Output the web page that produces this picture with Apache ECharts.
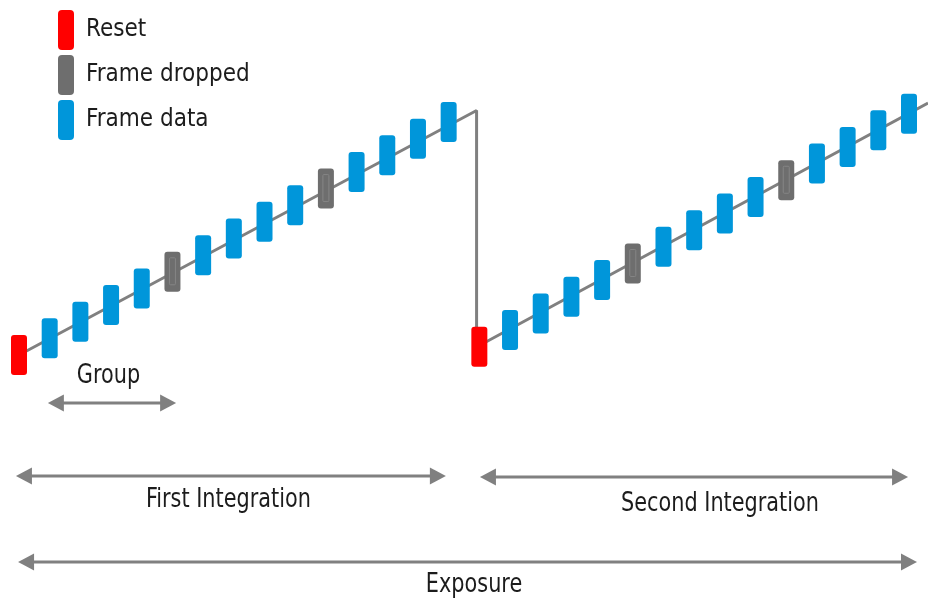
<!DOCTYPE html>
<html>
<head>
<meta charset="utf-8">
<script src="https://cdn.jsdelivr.net/npm/echarts@6/dist/echarts.min.js"></script>
<style>
  html, body { margin: 0; padding: 0; background: #ffffff; }
  #chart { width: 928px; height: 605px; }
</style>
</head>
<body>
<div id="chart"></div>
<script>
// ---------- DATA (time slot, signal level) ----------
const resetSlots   = [0, 15];
const resetLevels  = [0, 0.5];

const droppedSlots  = [5, 10, 20, 25];
const droppedLevels = [5, 10, 5.5, 10.5];

const frameSlots  = [1, 2, 3, 4, 6, 7, 8, 9, 11, 12, 13, 14,
                     16, 17, 18, 19, 21, 22, 23, 24, 26, 27, 28, 29];
const frameLevels = [1, 2, 3, 4, 6, 7, 8, 9, 11, 12, 13, 14,
                     1.5, 2.5, 3.5, 4.5, 6.5, 7.5, 8.5, 9.5, 11.5, 12.5, 13.5, 14.5];

// signal trace (ramp, reset drop, second ramp)
const traceSlots  = [0, 14.91, 14.91, 29.62];
const traceLevels = [0, 14.69, 0.48, 15.14];

// interval spans
const spanLabels = ['Group', 'First Integration', 'Second Integration', 'Exposure'];
const spanFrom   = [0.94, -0.1, 15.02, -0.03];
const spanTo     = [5.12, 13.91, 28.97, 29.26];

const legendNames = ['Reset', 'Frame dropped', 'Frame data'];

// ---------- LAYOUT / STYLE ----------
const FONT = "'DejaVu Sans Condensed', 'Noto Sans', sans-serif";
const TEXT_COLOR = '#1c1c1c';
const RED = '#ff0000', GRAY = '#6e6e6e', BLUE = '#0096da', LINE = '#808080';
const FRAME_W = 16, FRAME_H = 40;
const spanRowLevel = [-2.88, -7.27, -7.33, -12.44];
const spanTextOffset = [[-3.5, -27], [-2.5, 24], [26, 27], [6.5, 23]];

function zipPts(xs, ys) { return xs.map((x, i) => [x, ys[i]]); }

function frameRenderer(fill, inner) {
  return function (params, api) {
    const c = api.coord([api.value(0), api.value(1)]);
    const children = [{
      type: 'rect',
      shape: { x: c[0] - FRAME_W / 2, y: c[1] - FRAME_H / 2, width: FRAME_W, height: FRAME_H, r: 3 },
      style: { fill: fill }
    }];
    if (inner) {
      children.push({
        type: 'rect',
        shape: { x: c[0] - 3, y: c[1] - 14, width: 6, height: 27, r: 1 },
        style: { fill: null, stroke: inner, lineWidth: 1 }
      });
    }
    return { type: 'group', children: children };
  };
}

function spanRenderer(params, api) {
  const i = params.dataIndex;
  const lv = spanRowLevel[i];
  const a = api.coord([api.value(0), lv]);
  const b = api.coord([api.value(1), lv]);
  const y = a[1];
  const HL = 16, HW = 8.5;
  const off = spanTextOffset[i];
  return {
    type: 'group',
    children: [
      { type: 'line', shape: { x1: a[0] + HL - 2, y1: y, x2: b[0] - HL + 2, y2: y },
        style: { stroke: LINE, lineWidth: 3 } },
      { type: 'polygon', shape: { points: [[a[0], y], [a[0] + HL, y - HW], [a[0] + HL, y + HW]] },
        style: { fill: LINE } },
      { type: 'polygon', shape: { points: [[b[0], y], [b[0] - HL, y - HW], [b[0] - HL, y + HW]] },
        style: { fill: LINE } },
      { type: 'text', x: (a[0] + b[0]) / 2 + off[0], y: y + off[1], scaleX: 0.89, scaleY: 1,
        style: {
          text: spanLabels[i], x: 0, y: 0,
          align: 'center', verticalAlign: 'middle',
          font: '26px ' + FONT, fill: TEXT_COLOR } }
    ]
  };
}

const chart = echarts.init(document.getElementById('chart'), null, { renderer: 'canvas' });
chart.setOption({
  animation: false,
  backgroundColor: '#ffffff',
  grid: { left: 0, right: 0, top: 0, bottom: 0 },
  xAxis: { type: 'value', min: -0.619, max: 29.619, show: false },
  yAxis: { type: 'value', min: -15.02, max: 21.33, show: false },
  legend: {
    orient: 'vertical', left: 58, top: 10, padding: 0,
    icon: 'roundRect', itemWidth: 16, itemHeight: 40, itemGap: 5,
    textStyle: { fontFamily: FONT, fontSize: 24, color: TEXT_COLOR, padding: [0, 0, 0, 7] },
    data: [
      { name: legendNames[0], textStyle: { padding: [4, 0, 0, 7] } },
      { name: legendNames[1], textStyle: { padding: [0, 0, 6, 7] } },
      { name: legendNames[2], textStyle: { padding: [0, 0, 14, 7] } }
    ],
    selectedMode: false
  },
  series: [
    {
      type: 'line', name: 'trace', data: zipPts(traceSlots, traceLevels),
      showSymbol: false, symbol: 'none', z: 1,
      lineStyle: { color: LINE, width: 3 }, silent: true
    },
    {
      type: 'custom', name: legendNames[0], z: 3, itemStyle: { color: RED },
      data: zipPts(resetSlots, resetLevels), renderItem: frameRenderer(RED)
    },
    {
      type: 'custom', name: legendNames[1], z: 3, itemStyle: { color: GRAY },
      data: zipPts(droppedSlots, droppedLevels), renderItem: frameRenderer(GRAY, '#858585')
    },
    {
      type: 'custom', name: legendNames[2], z: 3, itemStyle: { color: BLUE },
      data: zipPts(frameSlots, frameLevels), renderItem: frameRenderer(BLUE)
    },
    {
      type: 'custom', name: 'spans', z: 2, silent: true,
      data: zipPts(spanFrom, spanTo), renderItem: spanRenderer
    }
  ]
});
</script>
</body>
</html>
